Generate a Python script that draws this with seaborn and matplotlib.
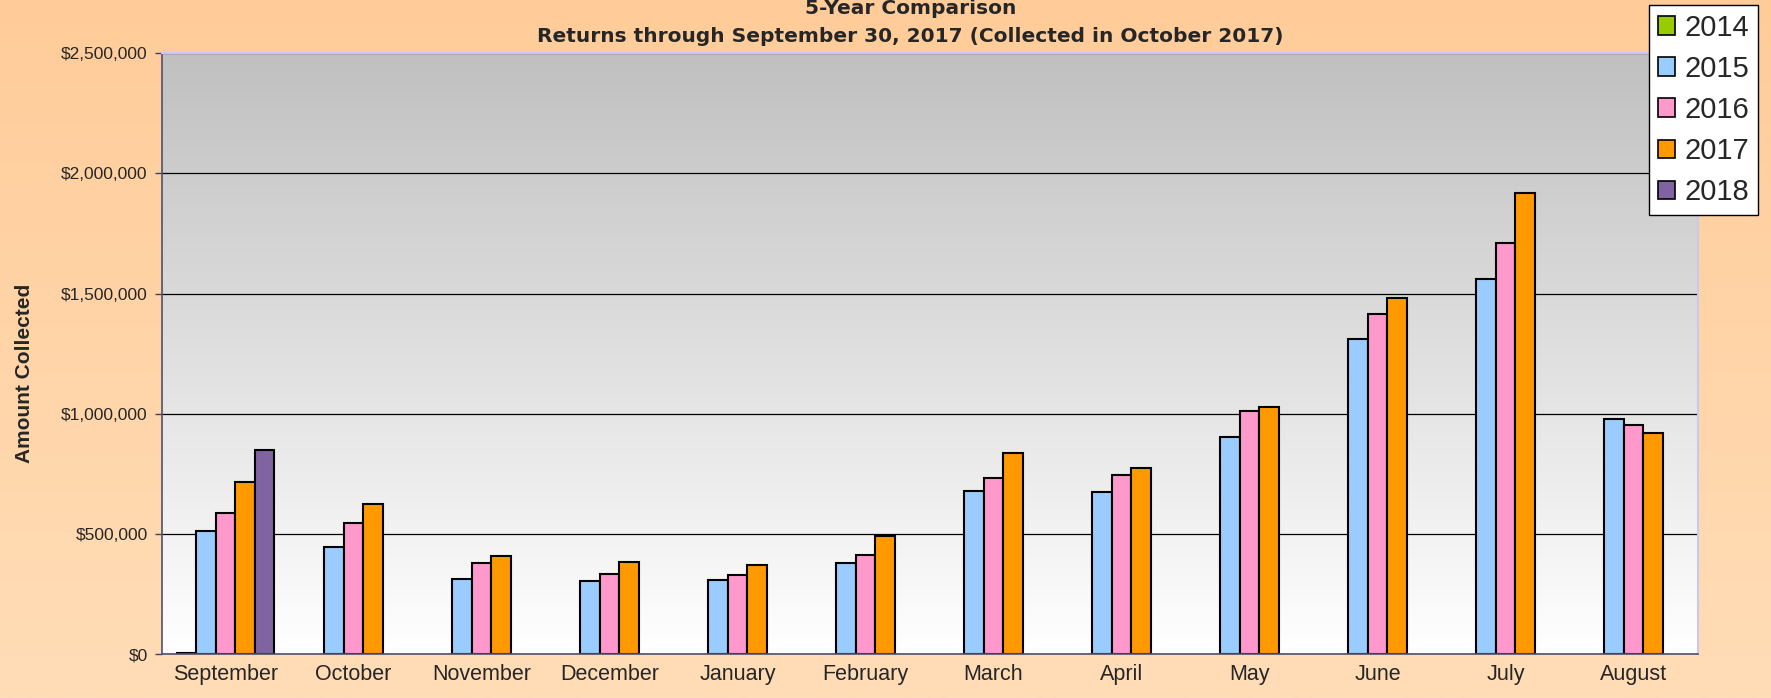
import numpy as np
import pandas as pd
import matplotlib
matplotlib.use("Agg")
import matplotlib.pyplot as plt
import seaborn as sns
from matplotlib.ticker import FuncFormatter, FixedLocator

# chart data
months = ["September", "October", "November", "December", "January", "February",
          "March", "April", "May", "June", "July", "August"]
years = ["2014", "2015", "2016", "2017", "2018"]
y2014 = [5000, None, None, None, None, None, None, None, None, None, None, None]
y2015 = [514000, 448000, 315000, 305000, 310000, 380000,
         680000, 675000, 905000, 1310000, 1560000, 980000]
y2016 = [589000, 546000, 380000, 335000, 330000, 413000,
         735000, 745000, 1013000, 1413000, 1710000, 955000]
y2017 = [718000, 625000, 410000, 385000, 372000, 490000,
         835000, 775000, 1030000, 1480000, 1920000, 920000]
y2018 = [850000, None, None, None, None, None, None, None, None, None, None, None]

colors = {"2014": "#99CC00", "2015": "#99CCFF", "2016": "#FF99CC",
          "2017": "#FF9900", "2018": "#8064A2"}

rows = []
for yr, vals in zip(years, [y2014, y2015, y2016, y2017, y2018]):
    for m, v in zip(months, vals):
        if v is not None:
            rows.append({"Month": m, "Year": yr, "Amount": v})
df = pd.DataFrame(rows)

sns.set_style("white")
plt.rcParams["font.family"] = ["Liberation Sans", "DejaVu Sans"]

fig = plt.figure(figsize=(17.71, 6.98), dpi=100)

# peach figure background gradient
bg = fig.add_axes([0, 0, 1, 1], zorder=-10)
grad = np.linspace(0, 1, 256).reshape(-1, 1)
top_c = np.array([255, 204, 153]) / 255
bot_c = np.array([255, 221, 183]) / 255
img = top_c + (bot_c - top_c) * grad[..., None]
bg.imshow(img, aspect="auto", extent=[0, 1, 0, 1])
bg.set_axis_off()

ax = fig.add_axes([0.0912, 0.0626, 0.9585 - 0.0912, 0.924 - 0.0626])
ax.set_facecolor("none")

sns.barplot(data=df, x="Month", y="Amount", hue="Year", order=months,
            hue_order=years, palette=colors, edgecolor="black", linewidth=1.5,
            width=0.76, saturation=1, ax=ax, legend=True)

# gray-to-white plot area gradient
pa_top = np.array([192, 192, 192]) / 255
pa_bot = np.array([255, 255, 255]) / 255
img2 = pa_top + (pa_bot - pa_top) * grad[..., None]
ax.imshow(img2, aspect="auto", extent=[-0.5, 11.5, 0, 2500000], zorder=0)

ax.set_xlim(-0.5, 11.5)
ax.set_ylim(0, 2500000)
ax.set_yticks(np.arange(0, 2500001, 500000))
ax.yaxis.set_major_formatter(FuncFormatter(lambda v, p: "${:,.0f}".format(v)))
ax.yaxis.grid(True, color="black", linewidth=0.9)
ax.set_axisbelow(True)
for line in ax.get_ygridlines():
    line.set_zorder(0.5)

ax.xaxis.set_minor_locator(FixedLocator(np.arange(-0.5, 12, 1)))
ax.tick_params(axis="x", which="major", length=0, labelsize=15.5, pad=7)
ax.tick_params(axis="x", which="minor", length=5, width=1, color="#404060",
               direction="out")
ax.tick_params(axis="y", which="major", length=5, width=1, color="#404060",
               direction="out", labelsize=12.5, left=True, pad=5)

ax.set_xlabel("")
ax.set_ylabel("")
fig.text(25 / 1771, 1 - 373 / 698, "Amount Collected", rotation=90,
         ha="center", va="center", fontsize=15, fontweight="bold")

for s in ["left", "bottom"]:
    ax.spines[s].set_color("#505070")
    ax.spines[s].set_linewidth(1.2)
for s in ["top", "right"]:
    ax.spines[s].set_color("#C8C8F0")
    ax.spines[s].set_linewidth(1.5)

ax.legend_.remove()
handles = [plt.Rectangle((0, 0), 1, 1, facecolor=colors[y], edgecolor="black",
                         linewidth=1.2) for y in years]
leg = fig.legend(handles, years, loc="upper left",
                 bbox_to_anchor=(1649 / 1771, 1 - 5 / 698),
                 fontsize=21, frameon=True, fancybox=False, edgecolor="black",
                 framealpha=1, handlelength=0.6, handleheight=0.6,
                 handletextpad=0.3, labelspacing=0.45, borderpad=0.3,
                 borderaxespad=0)
leg.get_frame().set_linewidth(1.0)

fig.text(0.514, 1 - 8 / 698, "5-Year Comparison", ha="center", va="center",
         fontsize=14.5, fontweight="bold", family=["DejaVu Sans"])
fig.text(0.514, 1 - 37 / 698,
         "Returns through September 30, 2017 (Collected in October 2017)",
         ha="center", va="center", fontsize=14.5, fontweight="bold",
         family=["DejaVu Sans"])

fig.savefig("out.png", dpi=100)
